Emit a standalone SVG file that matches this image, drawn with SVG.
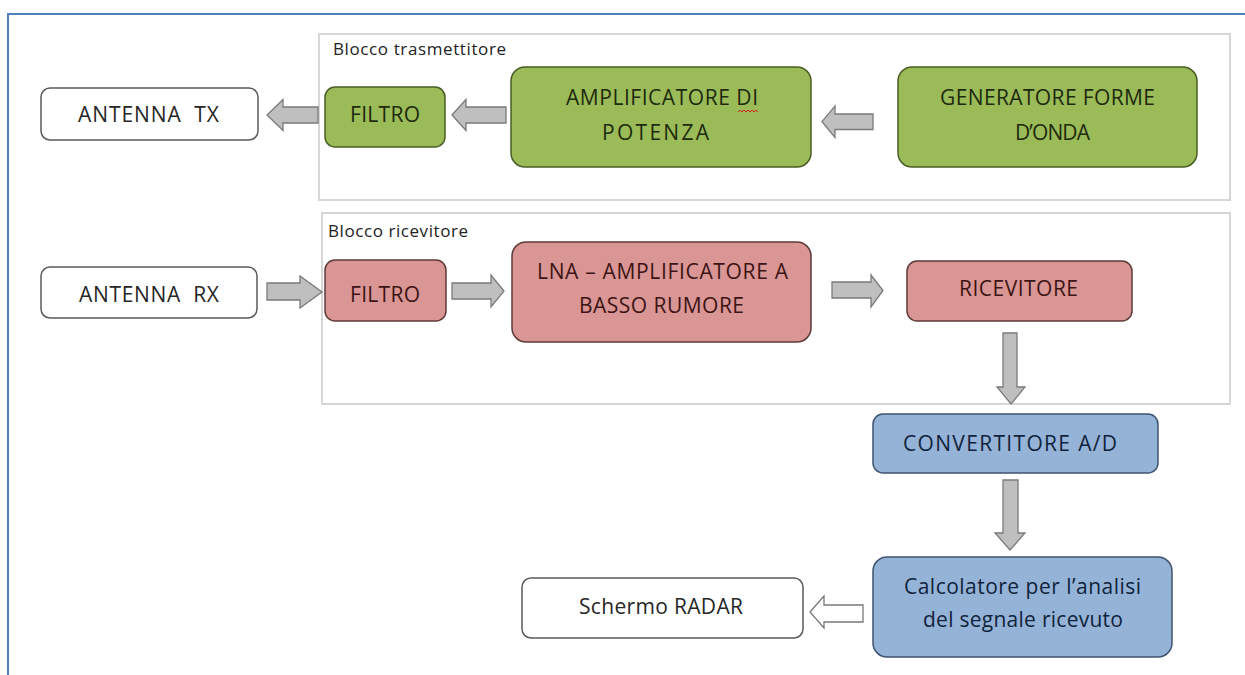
<svg xmlns="http://www.w3.org/2000/svg" width="1245" height="675" viewBox="0 0 1245 675">
<style>
text{font-family:"Open Sans","Noto Sans","Liberation Sans",sans-serif;}
.lbl{font-size:17px;fill:#222;}
.t{font-size:21px;text-anchor:middle;}
.block{fill:none;stroke:#d6d6d6;stroke-width:2;}
.white{fill:#fff;stroke:#5a5a5a;stroke-width:1.5;}
.green{fill:#9bbb59;stroke:#4a5e24;stroke-width:1.5;}
.pink{fill:#d99694;stroke:#5e3a39;stroke-width:1.5;}
.blue{fill:#95b3d7;stroke:#3e5470;stroke-width:1.5;}
.tw{fill:#262626;}
.tg{fill:#1e2a0c;}
.tp{fill:#3d1414;}
.tb{fill:#10233c;}
.arr{fill:#bfbfbf;stroke:#7a7a7a;stroke-width:1.3;stroke-linejoin:miter;}
.arrw{fill:#fff;stroke:#7a7a7a;stroke-width:1.3;}
</style>
<rect width="1245" height="675" fill="#fff"/>
<path d="M8,675 V14 H1245" fill="none" stroke="#4f81bd" stroke-width="2"/>

<g id="block-tx">
<rect class="block" x="319" y="34" width="911" height="166"/>
<text class="lbl" x="333" y="55" textLength="173" lengthAdjust="spacing">Blocco trasmettitore</text>
</g>
<g id="block-rx">
<rect class="block" x="322" y="213" width="908" height="191"/>
<text class="lbl" x="328" y="237" textLength="140" lengthAdjust="spacing">Blocco ricevitore</text>
</g>

<g id="connectors">
<polygon class="arr" points="267,115 283,99.5 283,107 318,107 318,123 283,123 283,130.5"/>
<polygon class="arr" points="452,115 466,99.5 466,107 506,107 506,123 466,123 466,130.5"/>
<polygon class="arr" points="822,121.7 835,106 835,114 873,114 873,129.5 835,129.5 835,137.5"/>
<polygon class="arr" points="267,283 300,283 300,276 322,292 300,308 300,300 267,300"/>
<polygon class="arr" points="452,283 491,283 491,275 504,291 491,307 491,299 452,299"/>
<polygon class="arr" points="832,282 871,282 871,275 883,290.5 871,307 871,298 832,298"/>
<polygon class="arr" points="1003,333 1017,333 1017,387 1025,387 1011,404 997,387 1003,387"/>
<polygon class="arr" points="1003,480 1018,480 1018,533 1025,533 1010,550 995,533 1003,533"/>
<polygon class="arrw" points="810,612 824,596 824,605 863,605 863,622 824,622 824,628"/>
</g>

<g id="antenna-tx">
<rect class="white" x="41" y="88" width="217" height="52" rx="9"/>
<text class="t tw" x="148.5" y="122" textLength="141" lengthAdjust="spacing">ANTENNA&#160; TX</text>
</g>
<g id="filtro-tx">
<rect class="green" x="325" y="87" width="120" height="60" rx="10"/>
<text class="t tg" x="385" y="122" textLength="70" lengthAdjust="spacing">FILTRO</text>
</g>
<g id="amplificatore">
<rect class="green" x="511" y="67" width="300" height="100" rx="14"/>
<text class="t tg" x="662" y="105" textLength="192" lengthAdjust="spacing">AMPLIFICATORE DI</text>
<text class="t tg" x="655.5" y="140" textLength="107" lengthAdjust="spacing">POTENZA</text>
<path d="M738,112 l2,-2 l2,2 l2,-2 l2,2 l2,-2 l2,2 l2,-2 l2,2 l2,-2 l2,2" fill="none" stroke="#d02020" stroke-width="1"/>
</g>
<g id="generatore">
<rect class="green" x="898" y="67" width="299" height="100" rx="14"/>
<text class="t tg" x="1047.5" y="105" textLength="215" lengthAdjust="spacing">GENERATORE FORME</text>
<text class="t tg" x="1052.5" y="140" textLength="75" lengthAdjust="spacing">D’ONDA</text>
</g>

<g id="antenna-rx">
<rect class="white" x="41" y="267" width="216" height="51" rx="9"/>
<text class="t tw" x="149" y="302" textLength="140" lengthAdjust="spacing">ANTENNA&#160; RX</text>
</g>
<g id="filtro-rx">
<rect class="pink" x="325" y="260" width="121" height="61" rx="10"/>
<text class="t tp" x="385" y="302" textLength="70" lengthAdjust="spacing">FILTRO</text>
</g>
<g id="lna">
<rect class="pink" x="512" y="242" width="299" height="100" rx="14"/>
<text class="t tp" x="662.5" y="279" textLength="251" lengthAdjust="spacing">LNA – AMPLIFICATORE A</text>
<text class="t tp" x="661.5" y="313" textLength="165" lengthAdjust="spacing">BASSO RUMORE</text>
</g>
<g id="ricevitore">
<rect class="pink" x="907" y="261" width="225" height="60" rx="10"/>
<text class="t tp" x="1018.5" y="295.5" textLength="119" lengthAdjust="spacing">RICEVITORE</text>
</g>
<g id="convertitore">
<rect class="blue" x="873" y="414" width="285" height="59" rx="10"/>
<text class="t tb" x="1010" y="450.5" textLength="214" lengthAdjust="spacing">CONVERTITORE A/D</text>
</g>
<g id="calcolatore">
<rect class="blue" x="873" y="557" width="299" height="100" rx="14"/>
<text class="t tb" x="1022.5" y="594" textLength="237" lengthAdjust="spacing">Calcolatore per l’analisi</text>
<text class="t tb" x="1023" y="627" textLength="200" lengthAdjust="spacing">del segnale ricevuto</text>
</g>
<g id="schermo">
<rect class="white" x="522" y="578" width="281" height="60" rx="9"/>
<text class="t tw" x="661" y="614" textLength="164" lengthAdjust="spacing">Schermo RADAR</text>
</g>
</svg>
